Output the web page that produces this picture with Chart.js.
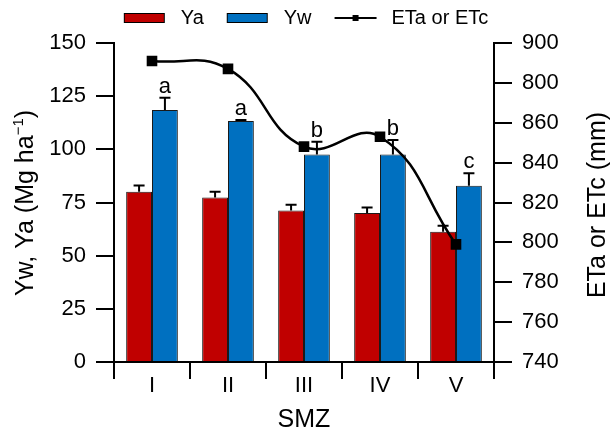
<!DOCTYPE html>
<html>
<head>
<meta charset="utf-8">
<script src="https://cdn.jsdelivr.net/npm/chart.js@4.4.0/dist/chart.umd.min.js"></script>
<style>
  html, body { margin: 0; padding: 0; background: #fff; }
  #wrap { width: 610px; height: 428px; }
</style>
</head>
<body>
<div id="wrap"><canvas id="chart"></canvas></div>
<script>
// --- Data ---
const zones = ['I', 'II', 'III', 'IV', 'V'];
const yaValues = [80.1, 77.4, 71.2, 70.1, 61.3];
const yaErrors = [2.9, 2.7, 2.8, 2.5, 2.8];
const ywValues = [118.5, 113.3, 97.6, 97.6, 82.9];
const ywErrors = [5.8, 0.5, 6.0, 6.8, 5.8];
const ywLetters = ['a', 'a', 'b', 'b', 'c'];
const etValues = [891, 887, 848, 853, 799];
const rightTickLabels = ['740', '760', '780', '800', '820', '840', '860', '800', '900'];

const FONT = '"Liberation Sans", Arial, Helvetica, sans-serif';
Chart.defaults.font.family = FONT;
Chart.defaults.color = '#000';

// --- Legend icons (box / line with marker) ---
function makeBoxIcon(color) {
    const c = document.createElement('canvas');
    c.width = 62; c.height = 12;
    const g = c.getContext('2d');
    g.fillStyle = color;
    g.fillRect(15.5, 1.5, 40, 9);
    g.strokeStyle = '#000';
    g.lineWidth = 1;
    g.strokeRect(15.5, 1.5, 40, 9);
    return c;
}

function makeLineIcon() {
    const c = document.createElement('canvas');
    c.width = 62; c.height = 12;
    const g = c.getContext('2d');
    g.strokeStyle = '#000';
    g.lineWidth = 2;
    g.beginPath();
    g.moveTo(15, 6); g.lineTo(57, 6);
    g.stroke();
    g.fillStyle = '#000';
    g.fillRect(33, 3, 6, 6);
    return c;
}

const legendIcons = [makeBoxIcon('#c00000'), makeBoxIcon('#0070c0'), makeLineIcon()];

// --- Plugins ---

// Upper error bars and significance letters on the bar datasets
const errorBars = {
    id: 'errorBars',
    afterDatasetDraw(chart, args) {
        const ds = chart.data.datasets[args.index];
        if (!ds.errors) return;
        const yScale = chart.scales[ds.yAxisID || 'y'];
        const ctx = chart.ctx;
        ctx.save();
        ctx.strokeStyle = '#000';
        ctx.lineWidth = 2;
        ctx.fillStyle = '#000';
        ctx.font = '22px ' + FONT;
        ctx.textAlign = 'center';
        ctx.textBaseline = 'alphabetic';
        args.meta.data.forEach((bar, i) => {
            const top = yScale.getPixelForValue(ds.data[i] + ds.errors[i]);
            ctx.beginPath();
            ctx.moveTo(bar.x, bar.y);
            ctx.lineTo(bar.x, top);
            ctx.moveTo(bar.x - 5.5, top);
            ctx.lineTo(bar.x + 5.5, top);
            ctx.stroke();
            if (ds.letters) ctx.fillText(ds.letters[i], bar.x, top - 5);
        });
        ctx.restore();
    }
};

// Axis titles (left one has a superscript, right one reads bottom-to-top)
const axisTitles = {
    id: 'axisTitles',
    afterDraw(chart) {
        const ctx = chart.ctx;
        ctx.save();
        ctx.fillStyle = '#000';
        ctx.textBaseline = 'alphabetic';
        ctx.textAlign = 'left';

        // left
        const main = 'Yw, Ya (Mg ha';
        const sup = '\u22121';
        const close = ')';
        const bigFont = '25px ' + FONT;
        const supFont = '15px ' + FONT;
        ctx.font = bigFont;
        const wMain = ctx.measureText(main).width;
        const wClose = ctx.measureText(close).width;
        ctx.font = supFont;
        const wSup = ctx.measureText(sup).width;
        const total = wMain + wSup + wClose;
        ctx.translate(33, 203);
        ctx.rotate(-Math.PI / 2);
        let x = -total / 2;
        ctx.font = bigFont;
        ctx.fillText(main, x, 0);
        x += wMain;
        ctx.font = supFont;
        ctx.fillText(sup, x, -10);
        x += wSup;
        ctx.font = bigFont;
        ctx.fillText(close, x, 0);
        ctx.setTransform(1, 0, 0, 1, 0, 0);

        // right
        ctx.font = bigFont;
        ctx.textAlign = 'center';
        ctx.translate(605, 205);
        ctx.rotate(-Math.PI / 2);
        ctx.fillText('ETa or ETc (mm)', 0, 0);
        ctx.restore();
    }
};

// Extra room under the legend row, and nudge the row a little to the left
const legendSpace = {
    id: 'legendSpace',
    beforeLayout(chart) {
        const lg = chart.legend;
        if (lg && !lg._padded) {
            const fit = lg.fit;
            lg.fit = function () {
                fit.call(this);
                this.height += 5;
                if (this.lineWidths) this.lineWidths[0] += 13;
            };
            lg._padded = true;
        }
    }
};

// --- Chart ---
const ctx = document.getElementById('chart').getContext('2d');
new Chart(ctx, {
    type: 'bar',
    data: {
        labels: zones,
        datasets: [{
            label: 'Ya',
            data: yaValues,
            errors: yaErrors,
            backgroundColor: '#c00000',
            borderColor: '#1a1a1a',
            borderWidth: 1,
            yAxisID: 'y',
            order: 1
        }, {
            label: 'Yw',
            data: ywValues,
            errors: ywErrors,
            letters: ywLetters,
            backgroundColor: '#0070c0',
            borderColor: '#1a1a1a',
            borderWidth: 1,
            yAxisID: 'y',
            order: 1
        }, {
            type: 'line',
            label: 'ETa or ETc',
            data: etValues,
            yAxisID: 'y1',
            borderColor: '#000',
            borderWidth: 2.5,
            tension: 0.45,
            pointStyle: 'rect',
            pointRadius: 7.5,
            pointBackgroundColor: '#000',
            pointBorderWidth: 0,
            order: 0
        }]
    },
    options: {
        responsive: true,
        maintainAspectRatio: false,
        animation: false,
        layout: { padding: 0 },
        datasets: {
            bar: { categoryPercentage: 0.68, barPercentage: 1 }
        },
        plugins: {
            tooltip: { enabled: false },
            legend: {
                position: 'top',
                labels: {
                    usePointStyle: true,
                    pointStyleWidth: 62,
                    boxHeight: 12,
                    padding: 8,
                    color: '#000',
                    font: { size: 20 },
                    sort: (a, b) => a.datasetIndex - b.datasetIndex,
                    generateLabels(chart) {
                        const items = Chart.defaults.plugins.legend.labels.generateLabels(chart);
                        items.forEach(it => { it.pointStyle = legendIcons[it.datasetIndex]; });
                        return items;
                    }
                }
            }
        },
        scales: {
            x: {
                offset: true,
                grid: { offset: true, drawOnChartArea: false, color: '#000', lineWidth: 2, tickLength: 17 },
                border: { color: '#000', width: 2 },
                ticks: { font: { size: 22 }, color: '#000', padding: -6 },
                title: { display: true, text: 'SMZ', font: { size: 25, lineHeight: 1 }, padding: { top: 0, bottom: -5 } },
                afterFit: s => { s.height = 66; }
            },
            y: {
                position: 'left',
                min: 0, max: 150,
                ticks: { stepSize: 25, font: { size: 22 }, color: '#000', padding: 10 },
                grid: { drawOnChartArea: false, color: '#000', lineWidth: 2, tickLength: 18 },
                border: { color: '#000', width: 2 },
                afterFit: s => { s.width = 114; }
            },
            y1: {
                position: 'right',
                min: 740, max: 900,
                ticks: {
                    stepSize: 20, font: { size: 22 }, color: '#000', padding: 10,
                    callback: (value, index) => rightTickLabels[index]
                },
                grid: { drawOnChartArea: false, color: '#000', lineWidth: 2, tickLength: 18 },
                border: { color: '#000', width: 2 },
                afterFit: s => { s.width = 116; }
            }
        }
    },
    plugins: [errorBars, axisTitles, legendSpace]
});
</script>
</body>
</html>
